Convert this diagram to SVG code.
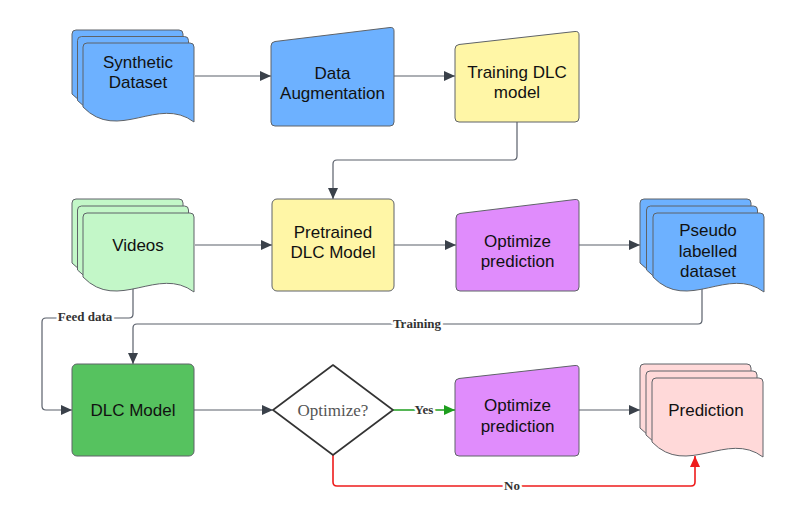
<svg xmlns="http://www.w3.org/2000/svg" xmlns:xlink="http://www.w3.org/1999/xlink" width="792" height="506" viewBox="0 0 792 506">
<style>
.n{stroke:#5f6368;stroke-width:1}
.blue{fill:#6db1ff}
.yellow{fill:#fff6a6}
.purple{fill:#e08cfc}
.lgreen{fill:#c3f7c8}
.dgreen{fill:#56c25f}
.pink{fill:#ffd9d9}
.t{font-family:"Liberation Sans",Arial,sans-serif;font-size:17px;fill:#111;text-anchor:middle}
.c{fill:none;stroke:#5a606b;stroke-width:1.2}
.lbl{font-family:"Liberation Serif","Times New Roman",serif;font-weight:bold;font-size:13px;fill:#333;text-anchor:middle;stroke:#fff;stroke-width:5;paint-order:stroke;stroke-linejoin:round}
</style>
<defs>
<path id="doc" d="M0,4 Q0,0 4,0 H107 Q111,0 111,4 V79 C75,52 35,100 0,64 Z"/>
<marker id="ah" markerUnits="userSpaceOnUse" markerWidth="11" markerHeight="10" refX="11" refY="5" orient="auto"><path d="M0,0 L11,5 L0,10 Z" fill="#3a414a"/></marker>
<marker id="ahg" markerUnits="userSpaceOnUse" markerWidth="11" markerHeight="10" refX="11" refY="5" orient="auto"><path d="M0,0 L11,5 L0,10 Z" fill="#1e9e1e"/></marker>
<marker id="ahr" markerUnits="userSpaceOnUse" markerWidth="11" markerHeight="10" refX="11" refY="5" orient="auto"><path d="M0,0 L11,5 L0,10 Z" fill="#ee1c1c"/></marker>
</defs>

<g id="connectors">
<path class="c" d="M195,76 H271" marker-end="url(#ah)"/>
<path class="c" d="M394,76 H455" marker-end="url(#ah)"/>
<path class="c" d="M517,122 V156 Q517,160 513,160 H337 Q333,160 333,164 V199" marker-end="url(#ah)"/>
<path class="c" d="M195,245 H272" marker-end="url(#ah)"/>
<path class="c" d="M394,245 H456" marker-end="url(#ah)"/>
<path class="c" d="M579,245 H640" marker-end="url(#ah)"/>
<path class="c" d="M133,285 V314 Q133,318 129,318 H46 Q42,318 42,322 V406 Q42,410 46,410 H72" marker-end="url(#ah)"/>
<path class="c" d="M702,285 V320 Q702,324 698,324 H137 Q133,324 133,328 V364" marker-end="url(#ah)"/>
<path class="c" d="M194,410 H273" marker-end="url(#ah)"/>
<path class="c" d="M393,410 H455" style="stroke:#1e9e1e;stroke-width:1.6" marker-end="url(#ahg)"/>
<path class="c" d="M579,410 H640" marker-end="url(#ah)"/>
<path class="c" d="M333,455 V482 Q333,486 337,486 H691 Q695,486 695,482 V456" style="stroke:#ee1c1c;stroke-width:1.6" marker-end="url(#ahr)"/>
<text class="lbl" x="85" y="321">Feed data</text>
<text class="lbl" x="417" y="328">Training</text>
<text class="lbl" x="424" y="414">Yes</text>
<text class="lbl" x="512" y="490">No</text>
</g>

<g id="synthetic-dataset">
<use xlink:href="#doc" href="#doc" x="72" y="30" class="n blue"/>
<use xlink:href="#doc" href="#doc" x="77.5" y="36.5" class="n blue"/>
<use xlink:href="#doc" href="#doc" x="83" y="43" class="n blue"/>
<text class="t" x="138" y="68">Synthetic</text>
<text class="t" x="138" y="88">Dataset</text>
</g>

<g id="data-augmentation">
<path class="n blue" d="M271,46 Q271,42 275,41.5 L390,27.5 Q394,27 394,31 V122 Q394,126 390,126 H275 Q271,126 271,122 Z"/>
<text class="t" x="332.5" y="79">Data</text>
<text class="t" x="332.5" y="99">Augmentation</text>
</g>

<g id="training-dlc-model">
<path class="n yellow" d="M455,49 Q455,45 459,44.5 L575,31.5 Q579,31 579,35 V118 Q579,122 575,122 H459 Q455,122 455,118 Z"/>
<text class="t" x="517" y="78">Training DLC</text>
<text class="t" x="517" y="98">model</text>
</g>

<g id="videos">
<use xlink:href="#doc" href="#doc" x="72" y="199" class="n lgreen"/>
<use xlink:href="#doc" href="#doc" x="77.5" y="206" class="n lgreen"/>
<use xlink:href="#doc" href="#doc" x="83" y="213" class="n lgreen"/>
<text class="t" x="138" y="251">Videos</text>
</g>

<g id="pretrained-dlc-model">
<rect class="n yellow" x="272" y="199" width="122" height="92" rx="5"/>
<text class="t" x="333" y="238">Pretrained</text>
<text class="t" x="333" y="258">DLC Model</text>
</g>

<g id="optimize-prediction-1">
<path class="n purple" d="M456,218 Q456,214 460,213.5 L575,199.5 Q579,199 579,203 V287 Q579,291 575,291 H460 Q456,291 456,287 Z"/>
<text class="t" x="517.5" y="247">Optimize</text>
<text class="t" x="517.5" y="267">prediction</text>
</g>

<g id="pseudo-labelled-dataset">
<use xlink:href="#doc" href="#doc" x="640" y="199" class="n blue"/>
<use xlink:href="#doc" href="#doc" x="646.5" y="206" class="n blue"/>
<use xlink:href="#doc" href="#doc" x="653" y="213" class="n blue"/>
<text class="t" x="708" y="236">Pseudo</text>
<text class="t" x="708" y="257">labelled</text>
<text class="t" x="708" y="277">dataset</text>
</g>

<g id="dlc-model">
<rect class="n dgreen" x="72" y="364" width="122" height="92" rx="5"/>
<text class="t" x="133" y="416">DLC Model</text>
</g>

<g id="optimize-decision">
<path d="M333,365 L393,410 L333,455 L273,410 Z" fill="#fff" stroke="#333" stroke-width="1.6" stroke-linejoin="round"/>
<text x="333" y="416" text-anchor="middle" style="font-family:'Liberation Serif','Times New Roman',serif;font-size:17px;fill:#555">Optimize?</text>
</g>

<g id="optimize-prediction-2">
<path class="n purple" d="M455,383 Q455,379 459,378.5 L575,365.5 Q579,365 579,369 V452 Q579,456 575,456 H459 Q455,456 455,452 Z"/>
<text class="t" x="517.5" y="411">Optimize</text>
<text class="t" x="517.5" y="432">prediction</text>
</g>

<g id="prediction">
<use xlink:href="#doc" href="#doc" x="640" y="364" class="n pink"/>
<use xlink:href="#doc" href="#doc" x="646" y="371" class="n pink"/>
<use xlink:href="#doc" href="#doc" x="652" y="378" class="n pink"/>
<text class="t" x="706" y="416">Prediction</text>
</g>
</svg>
